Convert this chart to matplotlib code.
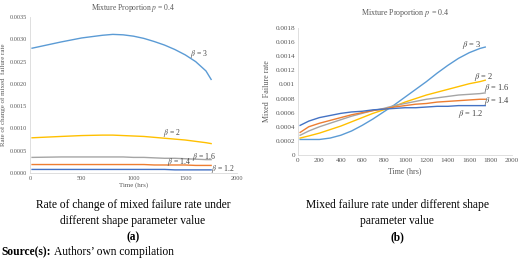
import matplotlib
matplotlib.use("Agg")
import matplotlib.pyplot as plt

plt.rcParams['font.family'] = ['Liberation Serif', 'DejaVu Serif']
plt.rcParams['mathtext.fontset'] = 'stix'

# colours of the Excel-like series
colors = {'3': '#5B9BD5', '2': '#FFC000', '1.6': '#A5A5A5', '1.4': '#ED7D31', '1.2': '#4472C4'}

# panel (a): rate of change of mixed failure rate
t_a = [20, 300, 500, 700, 800, 900, 1000, 1100, 1200, 1300, 1400, 1500, 1600, 1700, 1750]
rate_b3 = [0.00280, 0.00294, 0.00303, 0.00309, 0.00311, 0.00310, 0.00307, 0.00302, 0.00295, 0.00287,
           0.00277, 0.00265, 0.00250, 0.00229, 0.00210]
rate_b2 = [0.00079, 0.00082, 0.00084, 0.00085, 0.00085, 0.00084, 0.00083, 0.00082, 0.00080, 0.00078,
           0.00076, 0.00074, 0.00071, 0.00068, 0.00066]
rate_b16 = [0.00035, 0.00036, 0.00036, 0.00036, 0.00036, 0.00036, 0.00035, 0.00035, 0.00034, 0.00033,
            0.00033, 0.00032, 0.00031, 0.00030, 0.00030]
rate_b14 = [0.00019, 0.00019, 0.00019, 0.00019, 0.00019, 0.00019, 0.00019, 0.00019, 0.00018, 0.00018,
            0.00018, 0.00018, 0.00017, 0.00017, 0.00017]
rate_b12 = [0.00008, 0.00008, 0.00008, 0.00008, 0.00008, 0.00008, 0.00008, 0.00008, 0.00008, 0.00008,
            0.00007, 0.00007, 0.00007, 0.00007, 0.00007]

# panel (b): mixed failure rate
t_b = [20, 100, 200, 300, 400, 500, 600, 700, 800, 900, 1000, 1100, 1200, 1300, 1400, 1500, 1600, 1700, 1750]
fr_b3 = [0.00022, 0.00022, 0.00022, 0.00024, 0.00028, 0.00034, 0.00042, 0.00051, 0.00061, 0.00071, 0.00082,
         0.00093, 0.00104, 0.00116, 0.00127, 0.00137, 0.00145, 0.00151, 0.00153]
fr_b2 = [0.00024, 0.00027, 0.00031, 0.00036, 0.00041, 0.00047, 0.00053, 0.00059, 0.00064, 0.00069, 0.00075,
         0.00080, 0.00085, 0.00089, 0.00093, 0.00097, 0.00101, 0.00104, 0.00106]
fr_b16 = [0.00028, 0.00034, 0.00040, 0.00045, 0.00050, 0.00055, 0.00059, 0.00063, 0.00066, 0.00070, 0.00073,
          0.00076, 0.00079, 0.00081, 0.00083, 0.00085, 0.00086, 0.00087, 0.00088]
fr_b14 = [0.00032, 0.00040, 0.00045, 0.00049, 0.00053, 0.00057, 0.00060, 0.00063, 0.00065, 0.00068, 0.00070,
          0.00072, 0.00073, 0.00075, 0.00076, 0.00077, 0.00078, 0.00079, 0.00079]
fr_b12 = [0.00042, 0.00048, 0.00053, 0.00056, 0.00059, 0.00061, 0.00062, 0.00064, 0.00065, 0.00066, 0.00067,
          0.00067, 0.00068, 0.00069, 0.00069, 0.00070, 0.00070, 0.00070, 0.00070]

fig = plt.figure(figsize=(5.2, 2.66), dpi=100)

def style_axes(ax):
    for s in ['top', 'right']:
        ax.spines[s].set_visible(False)
    for s in ['left', 'bottom']:
        ax.spines[s].set_color('#D9D9D9')
        ax.spines[s].set_linewidth(0.6)
    ax.tick_params(length=0, colors='#595959', labelsize=4.5, pad=2)

# left chart
ax1 = fig.add_axes([30 / 520, 93 / 266, 207 / 520, 156 / 266])
style_axes(ax1)
ax1.plot(t_a, rate_b3, color=colors['3'], lw=1.0)
ax1.plot(t_a, rate_b2, color=colors['2'], lw=1.0)
ax1.plot(t_a, rate_b16, color=colors['1.6'], lw=1.0)
ax1.plot(t_a, rate_b14, color=colors['1.4'], lw=1.0)
ax1.plot(t_a, rate_b12, color=colors['1.2'], lw=1.0)
ax1.set_xlim(0, 2000)
ax1.set_ylim(0, 0.0035)
ax1.set_xticks([0, 500, 1000, 1500, 2000])
ax1.set_yticks([0, 0.0005, 0.0010, 0.0015, 0.0020, 0.0025, 0.0030, 0.0035])
ax1.set_yticklabels(['0.0000', '0.0005', '0.0010', '0.0015', '0.0020', '0.0025', '0.0030', '0.0035'])
ax1.set_xlabel('Time (hrs)', fontsize=5, color='#595959', labelpad=1)
ax1.set_ylabel('Rate of change of mixed  failure rate', fontsize=5, color='#595959', labelpad=3)
ax1.set_title(r'Mixture Proportion $p$ = 0.4', fontsize=5.5, color='#595959', pad=5)
for x, y, lab in [(1630, 0.00266, '3'), (1370, 0.00089, '2'), (1680, 0.00036, '1.6'),
                  (1435, 0.00024, '1.4'), (1860, 0.00010, '1.2')]:
    ax1.text(x, y, r'$\beta$ = ' + lab, fontsize=5.5, color='#404040', ha='center', va='center')

# right chart
ax2 = fig.add_axes([298 / 520, 111 / 266, 214 / 520, 127 / 266])
style_axes(ax2)
ax2.tick_params(labelsize=5.2)
ax2.plot(t_b, fr_b3, color=colors['3'], lw=1.0)
ax2.plot(t_b, fr_b2, color=colors['2'], lw=1.0)
ax2.plot(t_b, fr_b16, color=colors['1.6'], lw=1.0)
ax2.plot(t_b, fr_b14, color=colors['1.4'], lw=1.0)
ax2.plot(t_b, fr_b12, color=colors['1.2'], lw=1.0)
ax2.set_xlim(0, 2000)
ax2.set_ylim(0, 0.0018)
ax2.set_xticks(range(0, 2001, 200))
ax2.set_yticks([0, 0.0002, 0.0004, 0.0006, 0.0008, 0.001, 0.0012, 0.0014, 0.0016, 0.0018])
ax2.set_yticklabels(['0', '0.0002', '0.0004', '0.0006', '0.0008', '0.001', '0.0012', '0.0014', '0.0016', '0.0018'])
ax2.set_xlabel('Time (hrs)', fontsize=5.8, color='#595959', labelpad=3)
ax2.set_ylabel('Mixed  Failure rate', fontsize=5.8, color='#595959', labelpad=3)
ax2.set_title(r'Mixture Proportion $p$ = 0.4', fontsize=5.8, color='#595959', pad=9.5)
for x, y, lab in [(1620, 0.00156, '3'), (1730, 0.00110, '2'), (1860, 0.00095, '1.6'),
                  (1860, 0.00077, '1.4'), (1610, 0.00058, '1.2')]:
    ax2.text(x, y, r'$\beta$ = ' + lab, fontsize=6, color='#404040', ha='center', va='center')

# captions
cap = 8.3
fig.text(133 / 520, 1 - 205 / 266, 'Rate of change of mixed failure rate under', fontsize=cap, ha='center', va='center')
fig.text(133 / 520, 1 - 221 / 266, 'different shape parameter value', fontsize=cap, ha='center', va='center')
fig.text(133 / 520, 1 - 237 / 266, '(a)', fontsize=cap, fontweight='bold', ha='center', va='center')
fig.text(397 / 520, 1 - 205 / 266, 'Mixed failure rate under different shape', fontsize=cap, ha='center', va='center')
fig.text(397 / 520, 1 - 221 / 266, 'parameter value', fontsize=cap, ha='center', va='center')
fig.text(397 / 520, 1 - 237 / 266, '(b)', fontsize=cap, fontweight='bold', ha='center', va='center')
src = fig.text(1 / 520, 1 - 252 / 266, 'Source(s):', fontsize=cap, fontweight='bold', ha='left', va='center')
ax1.annotate('Authors\u2019 own compilation', xy=(1, 0.5), xycoords=src, xytext=(2.5, 0),
             textcoords='offset points', fontsize=cap, ha='left', va='center', annotation_clip=False)

fig.savefig('out.png', dpi=100)
